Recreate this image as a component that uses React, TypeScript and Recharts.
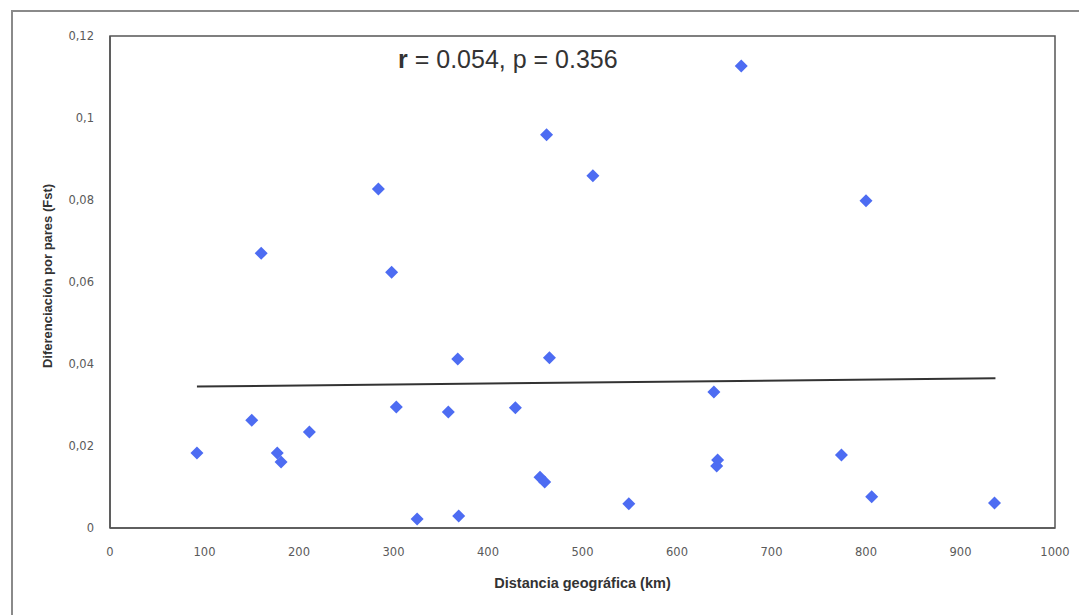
import {
  Scatter,
  XAxis,
  YAxis,
  ScatterChart,
  ReferenceArea,
  ReferenceLine,
  Label,
} from "recharts";

// distancia geográfica (km) vs diferenciación por pares
const distances = [
  92, 150, 160, 177, 181, 211, 284, 298, 303, 325, 358, 368, 369, 429, 455,
  460, 462, 465, 511, 549, 639, 642, 643, 668, 774, 800, 806, 936,
];
const fstValues = [
  0.0183, 0.0263, 0.067, 0.0183, 0.0161, 0.0234, 0.0827, 0.0624, 0.0295,
  0.0022, 0.0283, 0.0412, 0.0029, 0.0293, 0.0124, 0.0112, 0.0959, 0.0415,
  0.0859, 0.0059, 0.0332, 0.0151, 0.0166, 0.1127, 0.0178, 0.0798, 0.0076,
  0.0061,
];
const trendX = [92, 937];
const trendY = [0.0345, 0.0365];
const xTicks = [0, 100, 200, 300, 400, 500, 600, 700, 800, 900, 1000];
const yTicks = [0, 0.02, 0.04, 0.06, 0.08, 0.1, 0.12];

const points = distances.map((x, i) => ({ x, y: fstValues[i] }));

const Diamond = (props: any) => {
  const { cx, cy } = props;
  const r = 6.5;
  return (
    <path
      d={`M${cx},${cy - r}L${cx + r},${cy}L${cx},${cy + r}L${cx - r},${cy}Z`}
      fill="#4d6cf2"
    />
  );
};

const formatTick = (v: number) => String(v).replace(".", ",");

const tickStyle = { fontSize: 11.5, fill: "#5a5a5a", fontFamily: "'DejaVu Sans', sans-serif" };

const YLabel = (props: any) => {
  const { viewBox } = props;
  const x = 47;
  const y = viewBox.y + viewBox.height / 2 - 6;
  return (
    <text
      x={x}
      y={y}
      transform={`rotate(-90, ${x}, ${y})`}
      textAnchor="middle"
      dominantBaseline="central"
      style={{ fontSize: 13, fontWeight: "bold", fill: "#333" }}
    >
      Diferenciación por pares (Fst)
    </text>
  );
};

export default function App() {
  return (
    <div
      style={{
        position: "absolute",
        left: 0,
        top: 0,
        width: 1079,
        height: 615,
        background: "#fff",
        overflow: "hidden",
        fontFamily: "'Liberation Sans', Arial, sans-serif",
      }}
    >
      <div
        style={{
          position: "absolute",
          left: 11,
          top: 10,
          width: 1068,
          height: 2,
          background: "#8a8a8a",
        }}
      />
      <div
        style={{
          position: "absolute",
          left: 11,
          top: 10,
          width: 2,
          height: 605,
          background: "#8a8a8a",
        }}
      />
      <ScatterChart
        width={1079}
        height={615}
        margin={{ top: 36, right: 24, left: 60, bottom: 57 }}
      >
        <XAxis
          type="number"
          dataKey="x"
          domain={[0, 1000]}
          ticks={xTicks}
          tickLine={false}
          tickMargin={14}
          axisLine={{ stroke: "#555", strokeWidth: 1.5 }}
          tick={tickStyle}
          height={30}
        >
          <Label
            value="Distancia geográfica (km)"
            position="bottom"
            offset={20}
            style={{ fontSize: 14.5, fontWeight: "bold", fill: "#333" }}
          />
        </XAxis>
        <YAxis
          type="number"
          dataKey="y"
          domain={[0, 0.12]}
          ticks={yTicks}
          tickFormatter={formatTick}
          tickLine={false}
          tickMargin={10}
          axisLine={{ stroke: "#555", strokeWidth: 1.5 }}
          tick={tickStyle}
          width={50}
        >
          <Label content={YLabel} />
        </YAxis>
        <ReferenceArea
          x1={0}
          x2={1000}
          y1={0}
          y2={0.12}
          fill="none"
          stroke="#555"
          strokeWidth={1.5}
          ifOverflow="visible"
        />
        <ReferenceLine
          segment={[
            { x: trendX[0], y: trendY[0] },
            { x: trendX[1], y: trendY[1] },
          ]}
          stroke="#333"
          strokeWidth={2}
          ifOverflow="visible"
        />
        <Scatter
          data={points}
          shape={Diamond}
          isAnimationActive={false}
        />
      </ScatterChart>
      <div
        style={{
          position: "absolute",
          left: 398,
          top: 44,
          fontSize: 25,
          color: "#333",
          whiteSpace: "nowrap",
          lineHeight: "30px",
        }}
      >
        <b>r</b> = 0.054, p = 0.356
      </div>
    </div>
  );
}
